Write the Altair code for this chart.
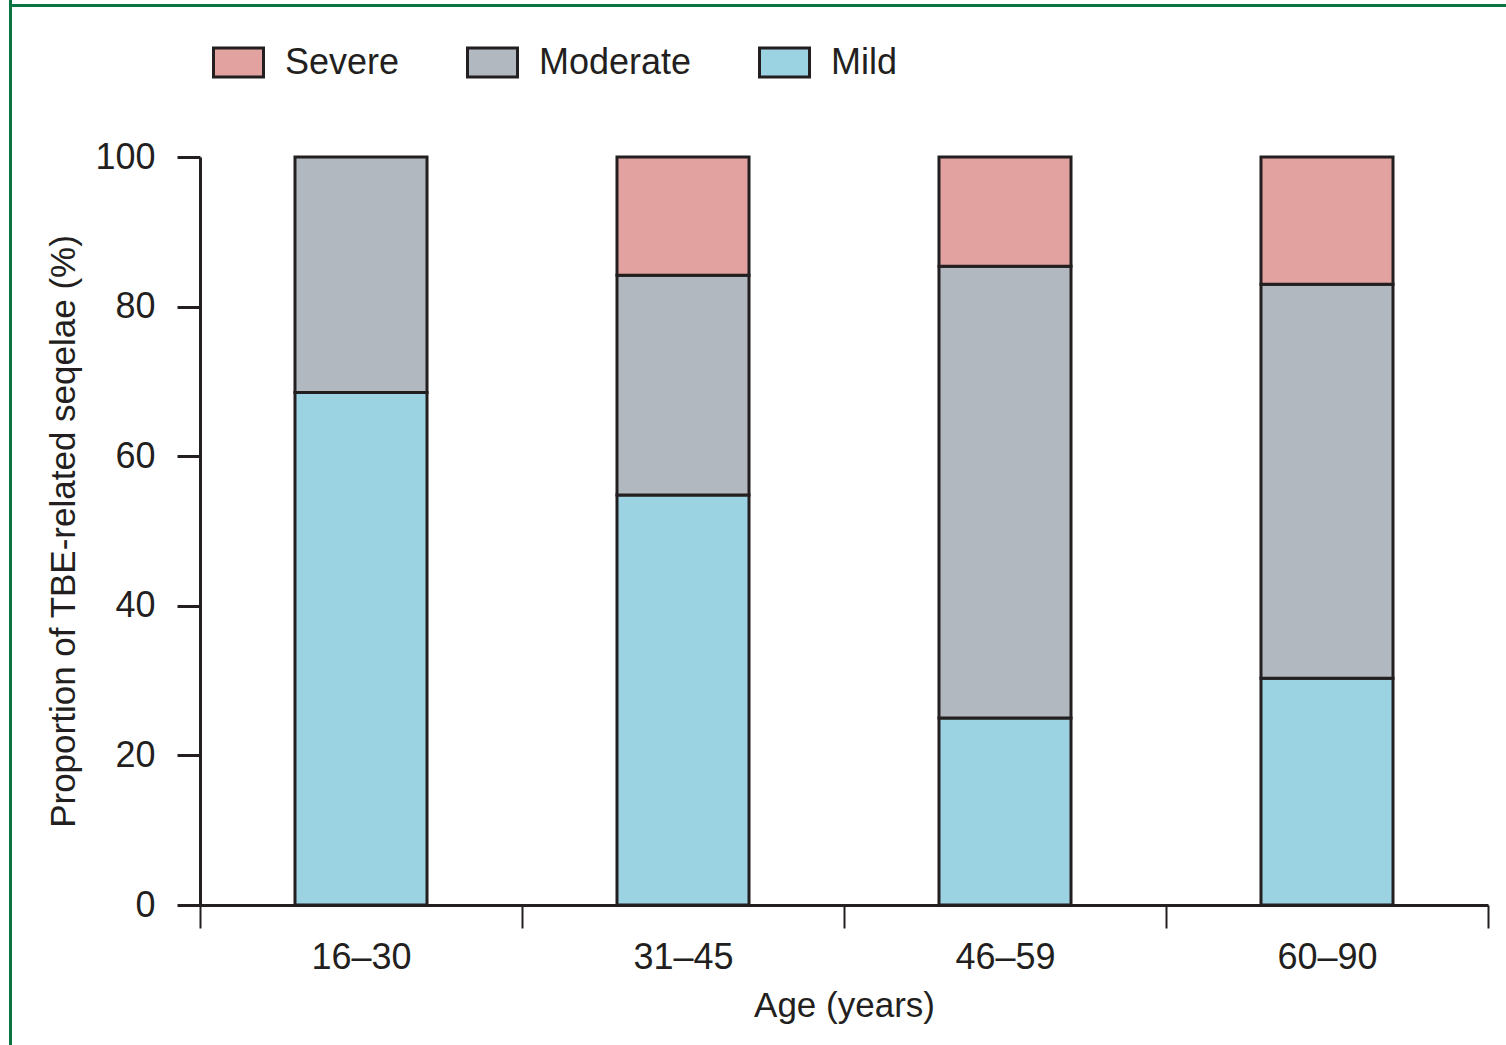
import altair as alt
import pandas as pd

# Age groups and share of each sequelae severity (%)
age_groups = ["16–30", "31–45", "46–59", "60–90"]
mild = [68.5, 54.8, 25.0, 30.3]
moderate = [31.5, 29.4, 60.4, 52.7]
severe = [0.0, 15.8, 14.6, 17.0]

severity_levels = ["Severe", "Moderate", "Mild"]
severity_colors = ["#e2a3a0", "#b2b8bf", "#9bd3e3"]
stack_rank = {"Mild": 0, "Moderate": 1, "Severe": 2}

rows = []
for i, age in enumerate(age_groups):
    for level, values in (("Mild", mild), ("Moderate", moderate), ("Severe", severe)):
        if values[i] > 0:
            rows.append({"age": age, "severity": level, "pct": values[i],
                         "rank": stack_rank[level]})
df = pd.DataFrame(rows)

FONT = "Liberation Sans"
INK = "#231f20"
FRAME = "#0a7542"

bars = alt.Chart(df).mark_bar(
    width=alt.RelativeBandSize(0.41),
    stroke=INK,
    strokeWidth=3,
).encode(
    x=alt.X(
        "age:N",
        sort=age_groups,
        title="Age (years)",
        scale=alt.Scale(paddingInner=0, paddingOuter=0),
        axis=alt.Axis(
            labelAngle=0,
            tickBand="extent",
            tickSize=23,
            tickWidth=2,
            tickColor=INK,
            domainWidth=3,
            domainColor=INK,
            labelFontSize=36,
            labelPadding=12,
            labelColor=INK,
            labelFont=FONT,
            titleFont=FONT,
            titleFontSize=35,
            titleFontWeight="normal",
            titleColor=INK,
            titlePadding=13,
        ),
    ),
    y=alt.Y(
        "pct:Q",
        stack="zero",
        title="Proportion of TBE-related seqelae (%)",
        scale=alt.Scale(domain=[0, 100], nice=False),
        axis=alt.Axis(
            values=[0, 20, 40, 60, 80, 100],
            grid=False,
            tickSize=23,
            tickWidth=3,
            tickColor=INK,
            domainWidth=3,
            domainColor=INK,
            labelFontSize=36,
            labelPadding=22,
            labelColor=INK,
            labelFont=FONT,
            titleFont=FONT,
            titleFontSize=35,
            titleFontWeight="normal",
            titleColor=INK,
            titlePadding=13,
        ),
    ),
    color=alt.Color(
        "severity:N",
        scale=alt.Scale(domain=severity_levels, range=severity_colors),
        legend=alt.Legend(
            title=None,
            orient="none",
            direction="horizontal",
            legendX=12,
            legendY=-121,
            symbolType="M-1,-0.58H1V0.58H-1Z",
            symbolSize=2500,
            symbolStrokeColor=INK,
            symbolStrokeWidth=3,
            symbolOpacity=1,
            labelFont=FONT,
            labelFontSize=36,
            labelColor=INK,
            labelOffset=20,
            columnPadding=61,
        ),
    ),
    order=alt.Order("rank:Q"),
)

# Green frame along the top and left edges of the figure
frame_src = pd.DataFrame({"edge": [0]})
frame_left = alt.Chart(frame_src).mark_rule(color=FRAME, strokeWidth=3).encode(
    x=alt.value(-189.5), y=alt.value(-157), y2=alt.value(900)
)
frame_top = alt.Chart(frame_src).mark_rule(color=FRAME, strokeWidth=3).encode(
    x=alt.value(-191), x2=alt.value(1320), y=alt.value(-151.5)
)

chart = alt.layer(bars, frame_left, frame_top).properties(
    width=1288,
    height=748,
    autosize=alt.AutoSizeParams(type="none"),
    padding={"left": 200, "top": 157, "right": 18, "bottom": 140},
    background="white",
).configure_view(stroke=None)

chart.save("out.html", embed_options={"renderer": "svg", "actions": False})
